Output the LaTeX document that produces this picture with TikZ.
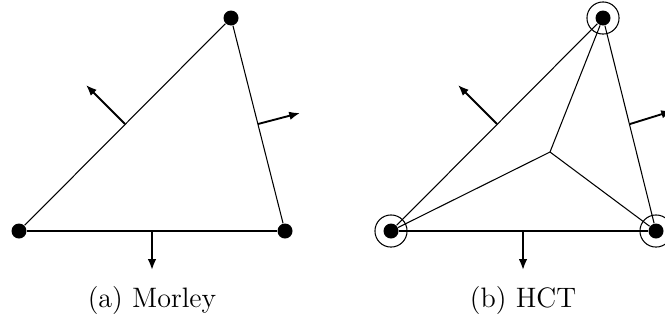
\documentclass[tikz,border=0pt]{standalone}
\usepackage{tikz}
\usetikzlibrary{arrows.meta,positioning}

\begin{document}
\begin{tikzpicture}[
  x=0.015cm, y=-0.015cm,
  vtx/.style={circle, fill=black, inner sep=0pt, minimum size=6.4pt},
  ring/.style={circle, draw, line width=0.45pt, inner sep=0pt, minimum size=13.7pt},
  edge/.style={line width=0.45pt},
  base/.style={line width=0.9pt},
  arr/.style={-{Latex[length=4.6pt, width=3.6pt]}, line width=0.8pt},
  subcap/.style={font=\large}
]
\useasboundingbox (0,0) rectangle (665,326);

% (a) Morley
\node[vtx] (ma) at (19,231)  {};
\node[vtx] (mb) at (285,231) {};
\node[vtx] (mc) at (231,18)  {};
\draw[edge] (ma) -- (mc);
\draw[edge] (mc) -- (mb);
\draw[base] (ma) -- (mb);

\coordinate (mab) at (152,231);
\coordinate (mac) at (125,124);
\coordinate (mbc) at (258,124);
\coordinate (nab) at (152,270);
\coordinate (nac) at (86,85);
\coordinate (nbc) at (300,113);
\draw[arr] (mab) -- (nab);
\draw[arr] (mac) -- (nac);
\draw[arr] (mbc) -- (nbc);

\node[subcap] (capa) at (152,300) {(a) Morley};

% (b) HCT
\node[vtx] (ha) at (391,231) {};
\node[vtx] (hb) at (656,231) {};
\node[vtx] (hc) at (603,18)  {};
\node[ring] (ra) at (ha) {};
\node[ring] (rb) at (hb) {};
\node[ring] (rc) at (hc) {};
\coordinate (hm) at (550,152);
\draw[edge] (ha) -- (hc);
\draw[edge] (hc) -- (hb);
\draw[base] (ha) -- (hb);
\draw[edge] (ha) -- (hm);
\draw[edge] (hb) -- (hm);
\draw[edge] (hc) -- (hm);

\coordinate (hab) at (523,231);
\coordinate (hac) at (497,124);
\coordinate (hbc) at (630,124);
\coordinate (kab) at (523,270);
\coordinate (kac) at (458,85);
\coordinate (kbc) at (672,111);
\draw[arr] (hab) -- (kab);
\draw[arr] (hac) -- (kac);
\draw[arr] (hbc) -- (kbc);

\node[subcap] (capb) at (523,300) {(b) HCT};
\end{tikzpicture}
\end{document}
